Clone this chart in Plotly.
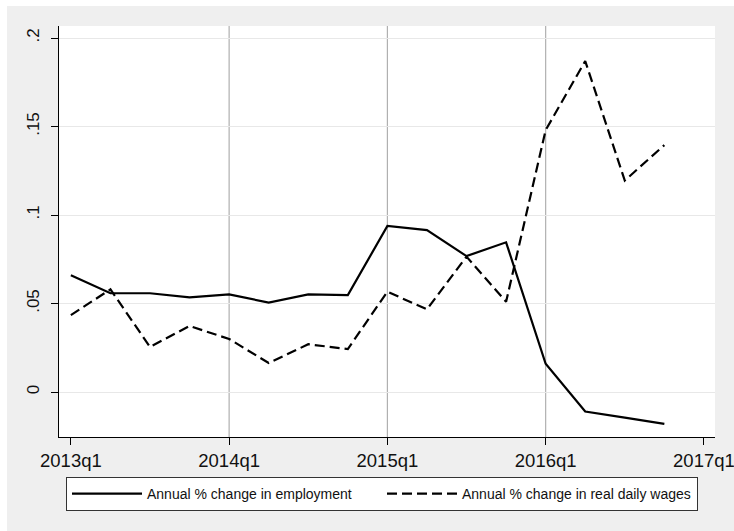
import plotly.graph_objects as go

# ---- data ----
quarters = ["2013q1", "2013q2", "2013q3", "2013q4",
            "2014q1", "2014q2", "2014q3", "2014q4",
            "2015q1", "2015q2", "2015q3", "2015q4",
            "2016q1", "2016q2", "2016q3", "2016q4"]
employment = [0.066, 0.0558, 0.0558, 0.0535, 0.0552, 0.0505, 0.0552, 0.0548,
              0.0938, 0.0915, 0.0768, 0.0846, 0.016, -0.0110, -0.0145, -0.0180]
wages = [0.0435, 0.058, 0.0255, 0.0373, 0.030, 0.0164, 0.027, 0.0243,
         0.0567, 0.0467, 0.0765, 0.051, 0.148, 0.187, 0.1195, 0.1395]
x_tick_pos = [0, 4, 8, 12, 16]
x_tick_labels = ["2013q1", "2014q1", "2015q1", "2016q1", "2017q1"]
xline_pos = [4, 8, 12]
y_tick_vals = [0, 0.05, 0.1, 0.15, 0.2]
y_tick_labels = ["0", ".05", ".1", ".15", ".2"]

x = list(range(len(quarters)))

W, H = 734, 531
ml, mr, mt, mb = 59, 19, 26, 94
pw, ph = W - ml - mr, H - mt - mb

FONT = "Arial, Liberation Sans, sans-serif"

fig = go.Figure()
fig.add_trace(go.Scatter(
    x=x, y=employment, mode="lines", name="Annual % change in employment",
    line=dict(color="black", width=2.2), customdata=quarters,
    hovertemplate="%{customdata}: %{y}<extra></extra>"))
fig.add_trace(go.Scatter(
    x=x, y=wages, mode="lines", name="Annual % change in real daily wages",
    line=dict(color="black", width=2.2, dash="10px,5px"), customdata=quarters,
    hovertemplate="%{customdata}: %{y}<extra></extra>"))

for q in xline_pos:
    fig.add_shape(type="line", xref="x", yref="paper", x0=q, x1=q, y0=0, y1=1,
                  line=dict(color="#b0b0b0", width=1.2), layer="below")

# white strips at top and left of the picture
fig.add_shape(type="rect", xref="paper", yref="paper",
              x0=-ml / pw - 0.01, x1=(W - ml) / pw + 0.01,
              y0=(ph + mt - 6) / ph, y1=(ph + mt) / ph + 0.01,
              fillcolor="white", line=dict(width=0), layer="below")
fig.add_shape(type="rect", xref="paper", yref="paper",
              x0=-ml / pw - 0.01, x1=(7 - ml) / pw,
              y0=-mb / ph - 0.01, y1=(ph + mt) / ph + 0.01,
              fillcolor="white", line=dict(width=0), layer="below")

fig.update_layout(
    width=W, height=H,
    margin=dict(l=ml, r=mr, t=mt, b=mb, autoexpand=False),
    paper_bgcolor="#efefef", plot_bgcolor="white",
    font=dict(family=FONT, color="#111111"),
    showlegend=True,
    legend=dict(
        orientation="h", x=(66 - ml) / pw, xanchor="left",
        y=(mt + ph - 477) / ph, yanchor="top",
        bgcolor="white", bordercolor="#333333", borderwidth=1,
        font=dict(size=14, family=FONT, color="#111111"),
        entrywidth=230, entrywidthmode="pixels", itemwidth=70,
        traceorder="normal"),
    xaxis=dict(
        range=[-0.30, 16.28], tickvals=x_tick_pos, ticktext=x_tick_labels,
        showgrid=False, zeroline=False, showline=True, linecolor="black",
        linewidth=1.2, ticks="outside", ticklen=7, tickcolor="black",
        ticklabeloverflow="allow",
        tickfont=dict(size=18.5, family=FONT, color="#111111")),
    yaxis=dict(
        range=[-0.0254, 0.2068], tickvals=y_tick_vals, ticktext=y_tick_labels,
        showgrid=True, gridcolor="#e8e8e8", gridwidth=1, zeroline=False,
        showline=True, linecolor="black", linewidth=1.2, ticks="outside",
        ticklen=7, tickcolor="black", tickangle=-90, ticklabelstandoff=5,
        tickfont=dict(size=17, family=FONT, color="#111111")),
)

fig.write_html("out.html")
